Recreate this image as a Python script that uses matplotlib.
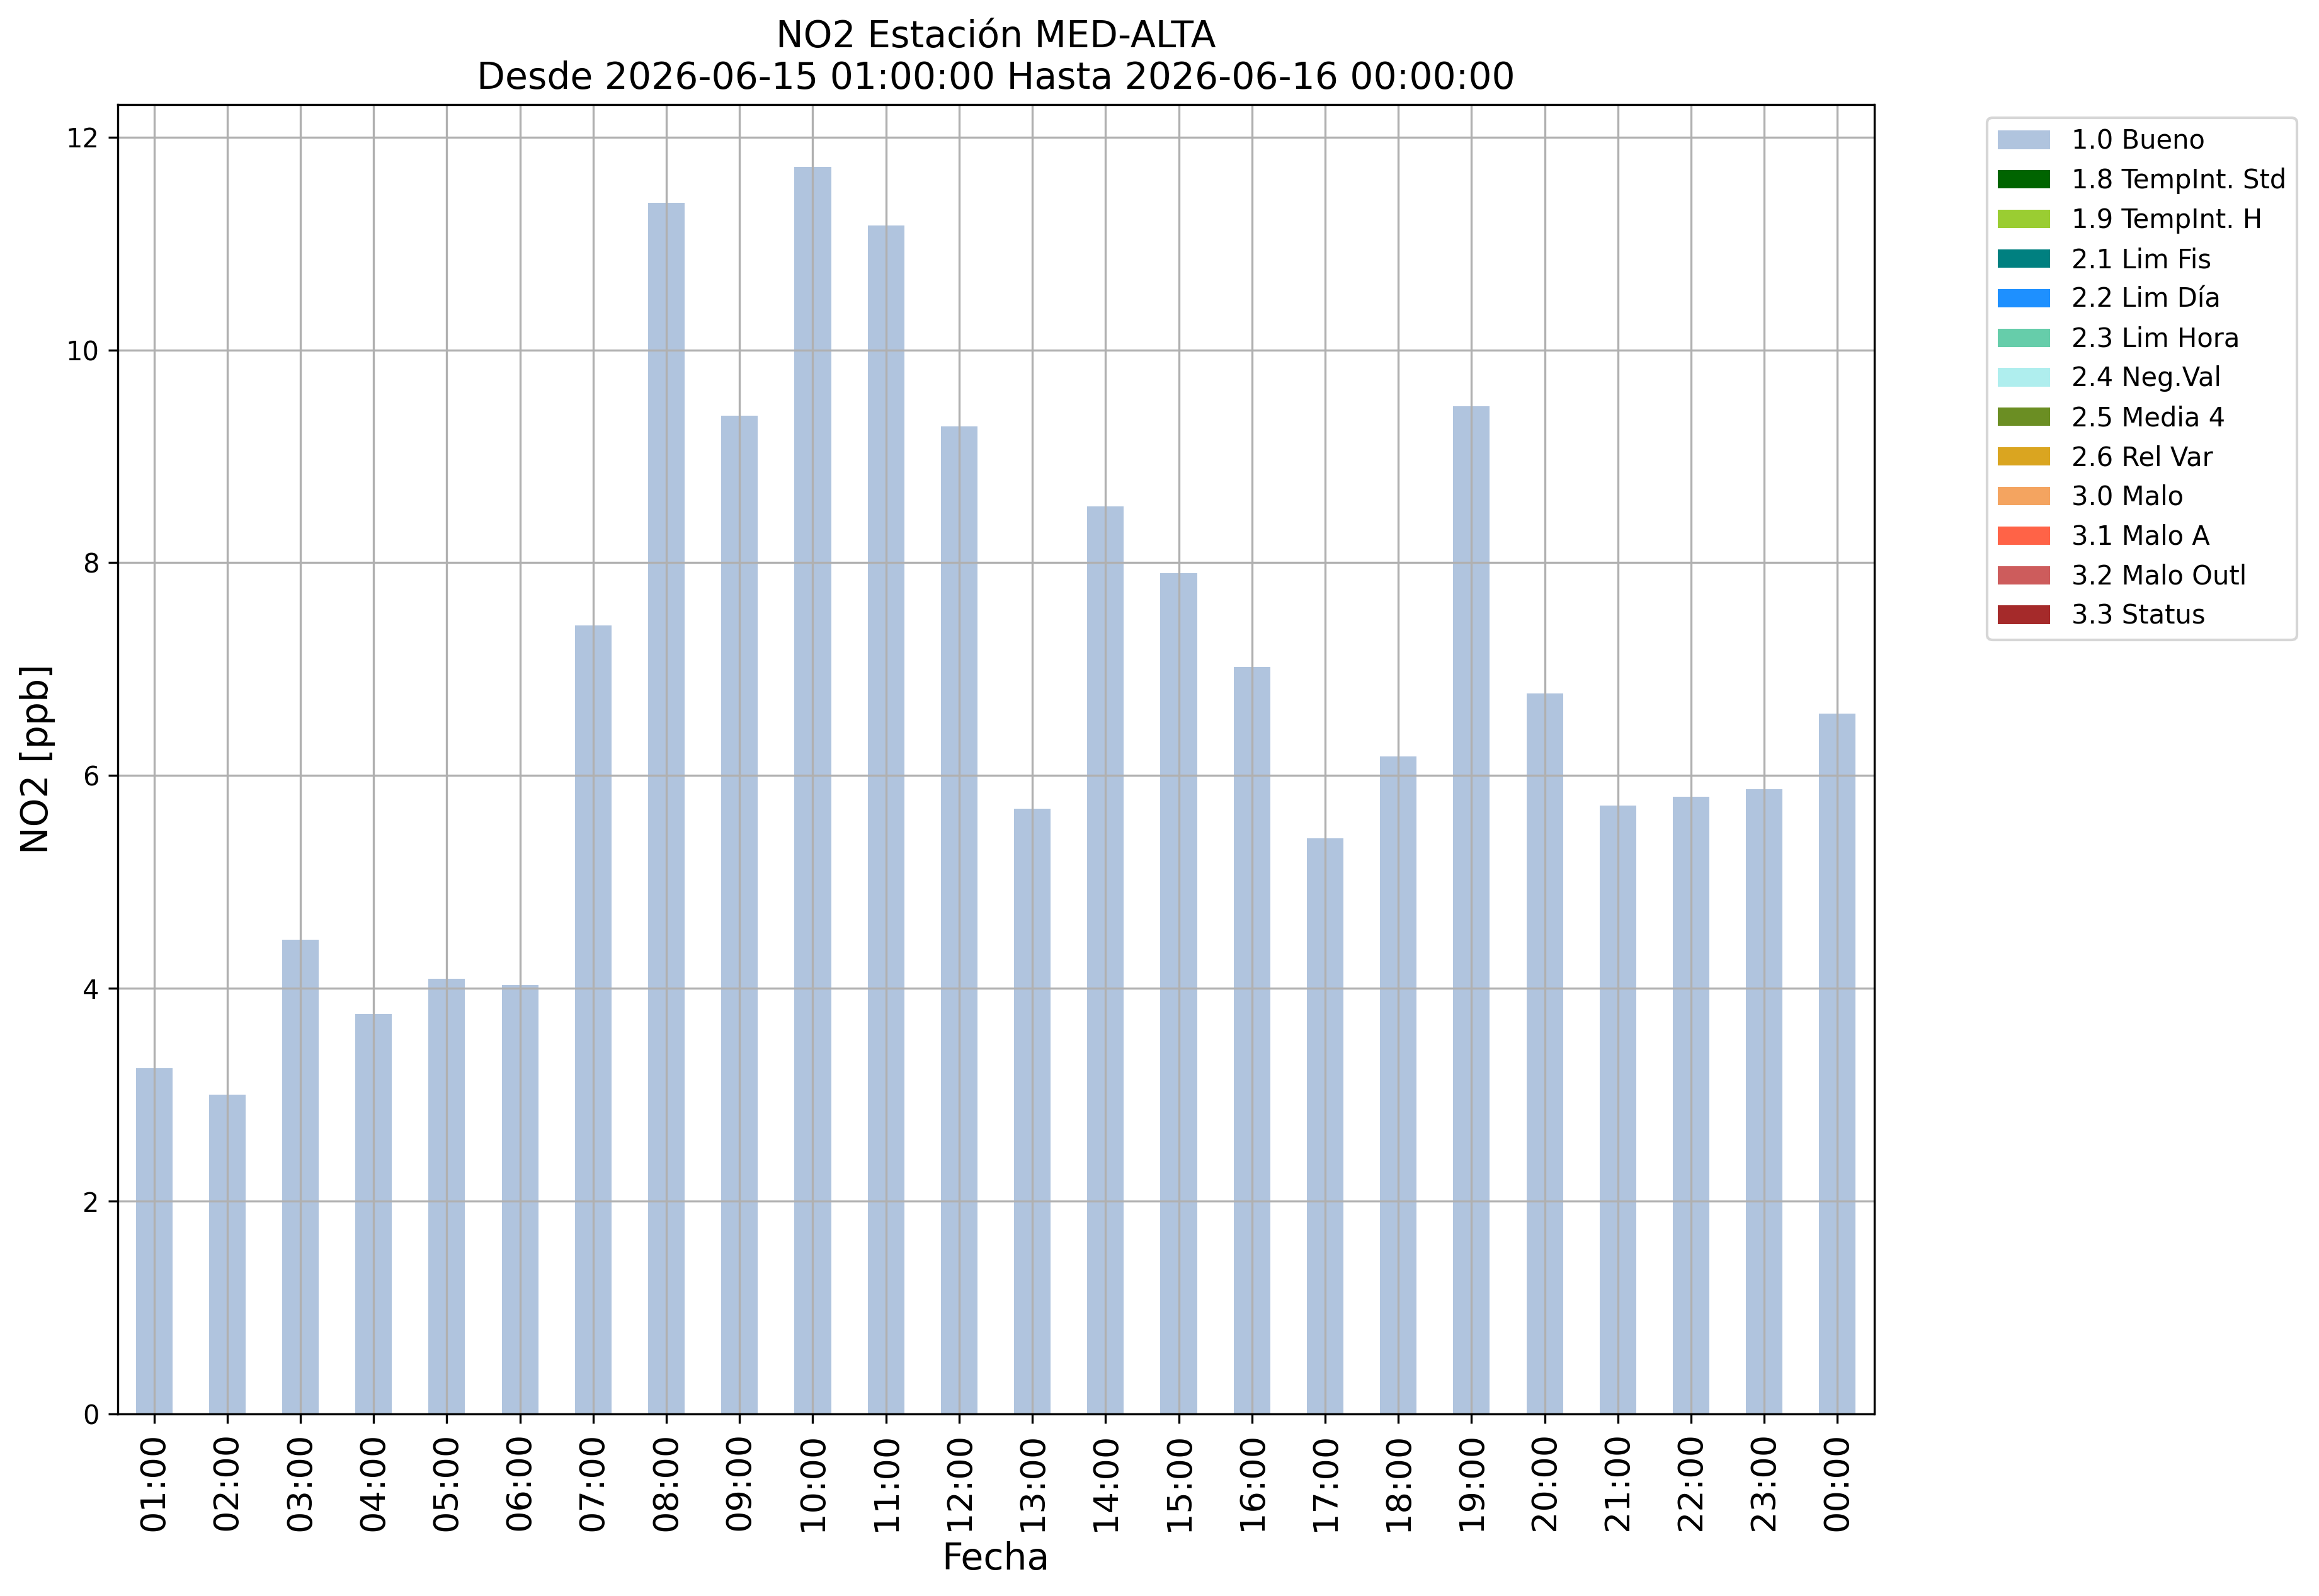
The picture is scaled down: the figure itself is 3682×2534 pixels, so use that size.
import matplotlib
matplotlib.use("Agg")
import matplotlib.pyplot as plt
import numpy as np

hours = ["01:00", "02:00", "03:00", "04:00", "05:00", "06:00", "07:00", "08:00",
         "09:00", "10:00", "11:00", "12:00", "13:00", "14:00", "15:00", "16:00",
         "17:00", "18:00", "19:00", "20:00", "21:00", "22:00", "23:00", "00:00"]

bueno = [3.25, 3.00, 4.46, 3.76, 4.09, 4.03, 7.41, 11.38, 9.38, 11.72, 11.17, 9.28,
         5.69, 8.53, 7.90, 7.02, 5.41, 6.18, 9.47, 6.77, 5.72, 5.80, 5.87, 6.58]

categories = ["1.0 Bueno", "1.8 TempInt. Std", "1.9 TempInt. H", "2.1 Lim Fis",
              "2.2 Lim Día", "2.3 Lim Hora", "2.4 Neg.Val", "2.5 Media 4",
              "2.6 Rel Var", "3.0 Malo", "3.1 Malo A", "3.2 Malo Outl", "3.3 Status"]
cat_colors = ["lightsteelblue", "darkgreen", "yellowgreen", "teal", "dodgerblue",
              "mediumaquamarine", "paleturquoise", "olivedrab", "goldenrod",
              "sandybrown", "tomato", "indianred", "brown"]

# Only "1.0 Bueno" has data; other flags are empty for this period
series = {c: ([v for v in bueno] if i == 0 else [0.0] * len(hours))
          for i, c in enumerate(categories)}

title_lines = ["NO2 Estación MED-ALTA",
               "Desde 2026-06-15 01:00:00 Hasta 2026-06-16 00:00:00"]

W, H, DPI = 3682, 2534, 300
fig = plt.figure(figsize=(W / DPI, H / DPI), dpi=DPI)
ax = fig.add_axes([186.5 / W, 1 - 2245 / H, (2975.5 - 186.5) / W, (2245 - 166) / H])

x = np.arange(len(hours))
bottom = np.zeros(len(hours))
for i, (c, col) in enumerate(zip(categories, cat_colors)):
    vals = np.array(series[c])
    cont = ax.bar(x, vals, width=0.5, bottom=bottom, color=col, label=c)
    if i > 0:
        for p in cont.patches:
            p.sticky_edges.y[:] = []
    bottom = bottom + vals

ax.set_xlim(-0.5, len(hours) - 0.5)
ax.set_xticks(x)
ax.set_xticklabels(hours, rotation=90, fontsize=13)
ax.tick_params(axis="y", labelsize=10)
ax.grid(True)
ax.set_xlabel("Fecha", fontsize=14)
ax.set_ylabel("NO2 [ppb]", fontsize=14)
ax.set_title("\n".join(title_lines), fontsize=14)
ax.legend(bbox_to_anchor=(1.057, 1), loc="upper left", fontsize=10)

fig.savefig("out.png", dpi=DPI)
